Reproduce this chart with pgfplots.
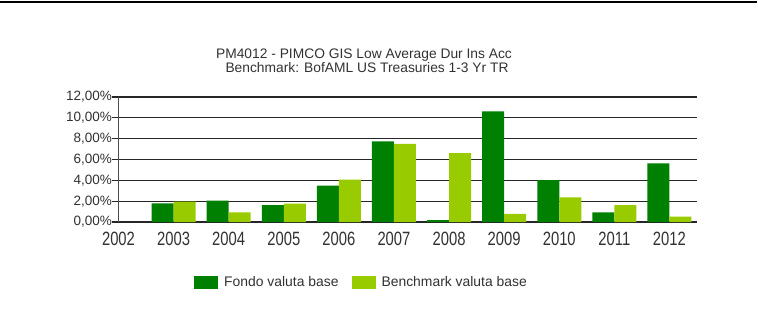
\documentclass[border=0pt]{standalone}
\usepackage{pgfplots}
\pgfplotsset{compat=1.18}
\usepackage{fontspec}
\setmainfont{Liberation Sans}
\definecolor{fondo}{RGB}{0,128,0}
\definecolor{bench}{RGB}{153,204,0}
\definecolor{txt}{RGB}{50,50,50}
\begin{document}
\begin{tikzpicture}[x=1pt,y=1pt]
\useasboundingbox (0,0) rectangle (758,333);
\draw[line width=2.5pt] (0,331) -- (757,331);
\node[anchor=base, font=\fontsize{13.8}{16}\selectfont, text=txt] at (364,275) {PM4012 - PIMCO GIS Low Average Dur Ins Acc};
\node[anchor=base, font=\fontsize{13.8}{16}\selectfont, text=txt] at (367,261) {Benchmark: BofAML US Treasuries 1-3 Yr TR};
\begin{axis}[
  at={(118.5pt,111pt)}, anchor=south west,
  scale only axis, width=578.5pt, height=125pt,
  xmin=0, xmax=10.5, ymin=0, ymax=12,
  axis x line*=bottom, axis y line*=left,
  x axis line style={black!85, line width=1.3pt, -},
  y axis line style={black!70, line width=0.8pt, -},
  ytick={0,2,4,6,8,10,12},
  yticklabels={{0,00\%},{2,00\%},{4,00\%},{6,00\%},{8,00\%},{10,00\%},{12,00\%}},
  xtick={0,1,2,3,4,5,6,7,8,9,10},
  xticklabels={2002,2003,2004,2005,2006,2007,2008,2009,2010,2011,2012},
  ymajorgrids, major grid style={black!85, line width=1.3pt},
  ytick style={black!85, line width=1.3pt},
  tick align=outside, major tick length=6pt,
  xtick style={draw=none},
  yticklabel style={font=\fontsize{13.5}{16}\selectfont, text=txt, inner sep=0.5pt},
  xticklabel style={font=\fontsize{14.8}{17}\selectfont, text=txt, anchor=center, yshift=-11pt, yscale=1.3},
  ybar=0pt, bar width=22pt,
  legend style={at={(0.1305,-0.48)}, anchor=west, draw=none, fill=none, inner sep=0pt,
    legend columns=2, font=\fontsize{13.9}{16}\selectfont, text=txt,
    nodes={inner sep=0pt},
    /tikz/every odd column/.append style={column sep=6pt},
    /tikz/every even column/.append style={column sep=13pt}},
  legend image code/.code={\fill[#1] (0pt,-6.5pt) rectangle (24pt,6.5pt);},
]
\addplot[fill=fondo, draw=none] coordinates {
  (1,1.79) (2,2.05) (3,1.63) (4,3.49) (5,7.74) (6,0.19) (7,10.62) (8,4.03) (9,0.93) (10,5.63)};
\addplot[fill=bench, draw=none] coordinates {
  (1,1.95) (2,0.93) (3,1.76) (4,4.06) (5,7.49) (6,6.62) (7,0.77) (8,2.37) (9,1.63) (10,0.51)};
\legend{Fondo valuta base, Benchmark valuta base}
\end{axis}
\end{tikzpicture}
\end{document}
